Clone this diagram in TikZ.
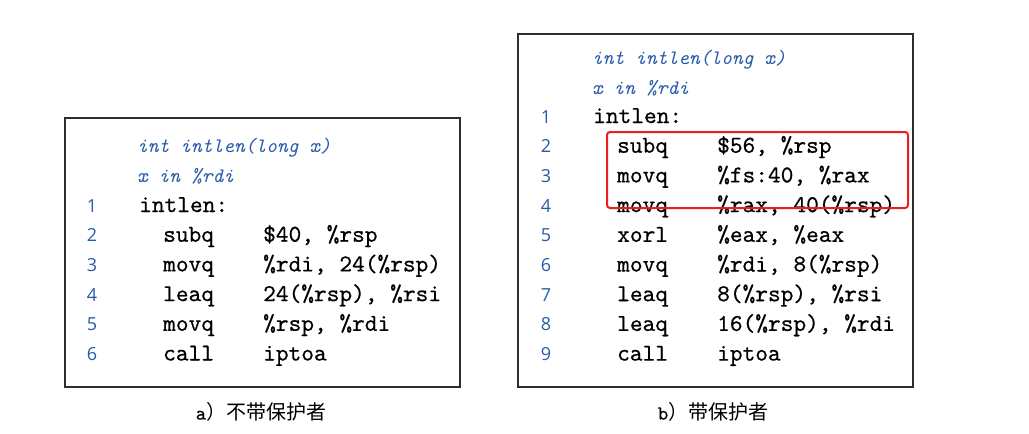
\documentclass[tikz,border=0pt]{standalone}
\usepackage{fontspec}
\newfontfamily\numfont{Open Sans}
\newfontfamily\cjk{Noto Sans CJK SC}
\newfontfamily\codefont{lmmono10-regular}[Extension=.otf,FakeBold=0.5]
\definecolor{numblue}{RGB}{40,90,170}
\definecolor{boxgray}{RGB}{45,45,45}
\definecolor{hlred}{RGB}{235,30,30}
\begin{document}
\begin{tikzpicture}[x=1pt,y=-1pt,
  codebox/.style={draw=boxgray,line width=1.5pt},
  linenum/.style={anchor=base,inner sep=0pt,text=numblue,font=\numfont\fontsize{18}{20}\selectfont},
  comtxt/.style={anchor=base west,inner sep=0pt,text=numblue,font=\ttfamily\itshape\fontsize{20.5}{24}\selectfont},
  codetxt/.style={anchor=base west,inner sep=0pt,font=\codefont\fontsize{24.2}{28}\selectfont},
  captxt/.style={anchor=center,inner sep=0pt,font=\fontsize{20}{22}\selectfont},
  hlbox/.style={draw=hlred,line width=2pt,rounded corners=3pt}]
\useasboundingbox (0,0) rectangle (1029,434);
% ---------- left box ----------
\draw[codebox] (65,118) rectangle (460,387);
\node[comtxt] (la1) at (137,152) {int intlen(long x)};
\node[comtxt] (la2) at (137,182) {x in \%rdi};
\node[linenum] (ln1) at (92,212) {1};
\node[codetxt] (l1) at (139,212) {intlen:};
\foreach \n/\ins/\op [count=\i from 1] in {2/subq/{\$40, \%rsp},3/movq/{\%rdi, 24(\%rsp)},4/leaq/{24(\%rsp), \%rsi},5/movq/{\%rsp, \%rdi},6/call/iptoa}{
  \pgfmathsetmacro\yy{212+29.7*\i}
  \node[linenum] (lnum\n) at (92,\yy) {\n};
  \node[codetxt] (lins\n) at (163,\yy) {\ins};
  \node[codetxt] (lop\n) at (263,\yy) {\op};
}
\node[captxt] (capa) at (261,412) {{\codefont a}{\cjk ）不带保护者}};
% ---------- right box ----------
\draw[codebox] (518,34) rectangle (913,387);
\node[comtxt] (ra1) at (592,64) {int intlen(long x)};
\node[comtxt] (ra2) at (592,94) {x in \%rdi};
\node[linenum] (rn1) at (546,123) {1};
\node[codetxt] (r1) at (593,123) {intlen:};
\foreach \n/\ins/\op [count=\i from 1] in {2/subq/{\$56, \%rsp},3/movq/{\%fs:40, \%rax},4/movq/{\%rax, 40(\%rsp)},5/xorl/{\%eax, \%eax},6/movq/{\%rdi, 8(\%rsp)},7/leaq/{8(\%rsp), \%rsi},8/leaq/{16(\%rsp), \%rdi},9/call/iptoa}{
  \pgfmathsetmacro\yy{123+29.7*\i}
  \node[linenum] (rnum\n) at (546,\yy) {\n};
  \node[codetxt] (rins\n) at (617,\yy) {\ins};
  \node[codetxt] (rop\n) at (717,\yy) {\op};
}
\draw[hlbox] (607,132) rectangle (908,208);
\node[captxt] (capb) at (713,412) {{\codefont b}{\cjk ）带保护者}};
\end{tikzpicture}
\end{document}
